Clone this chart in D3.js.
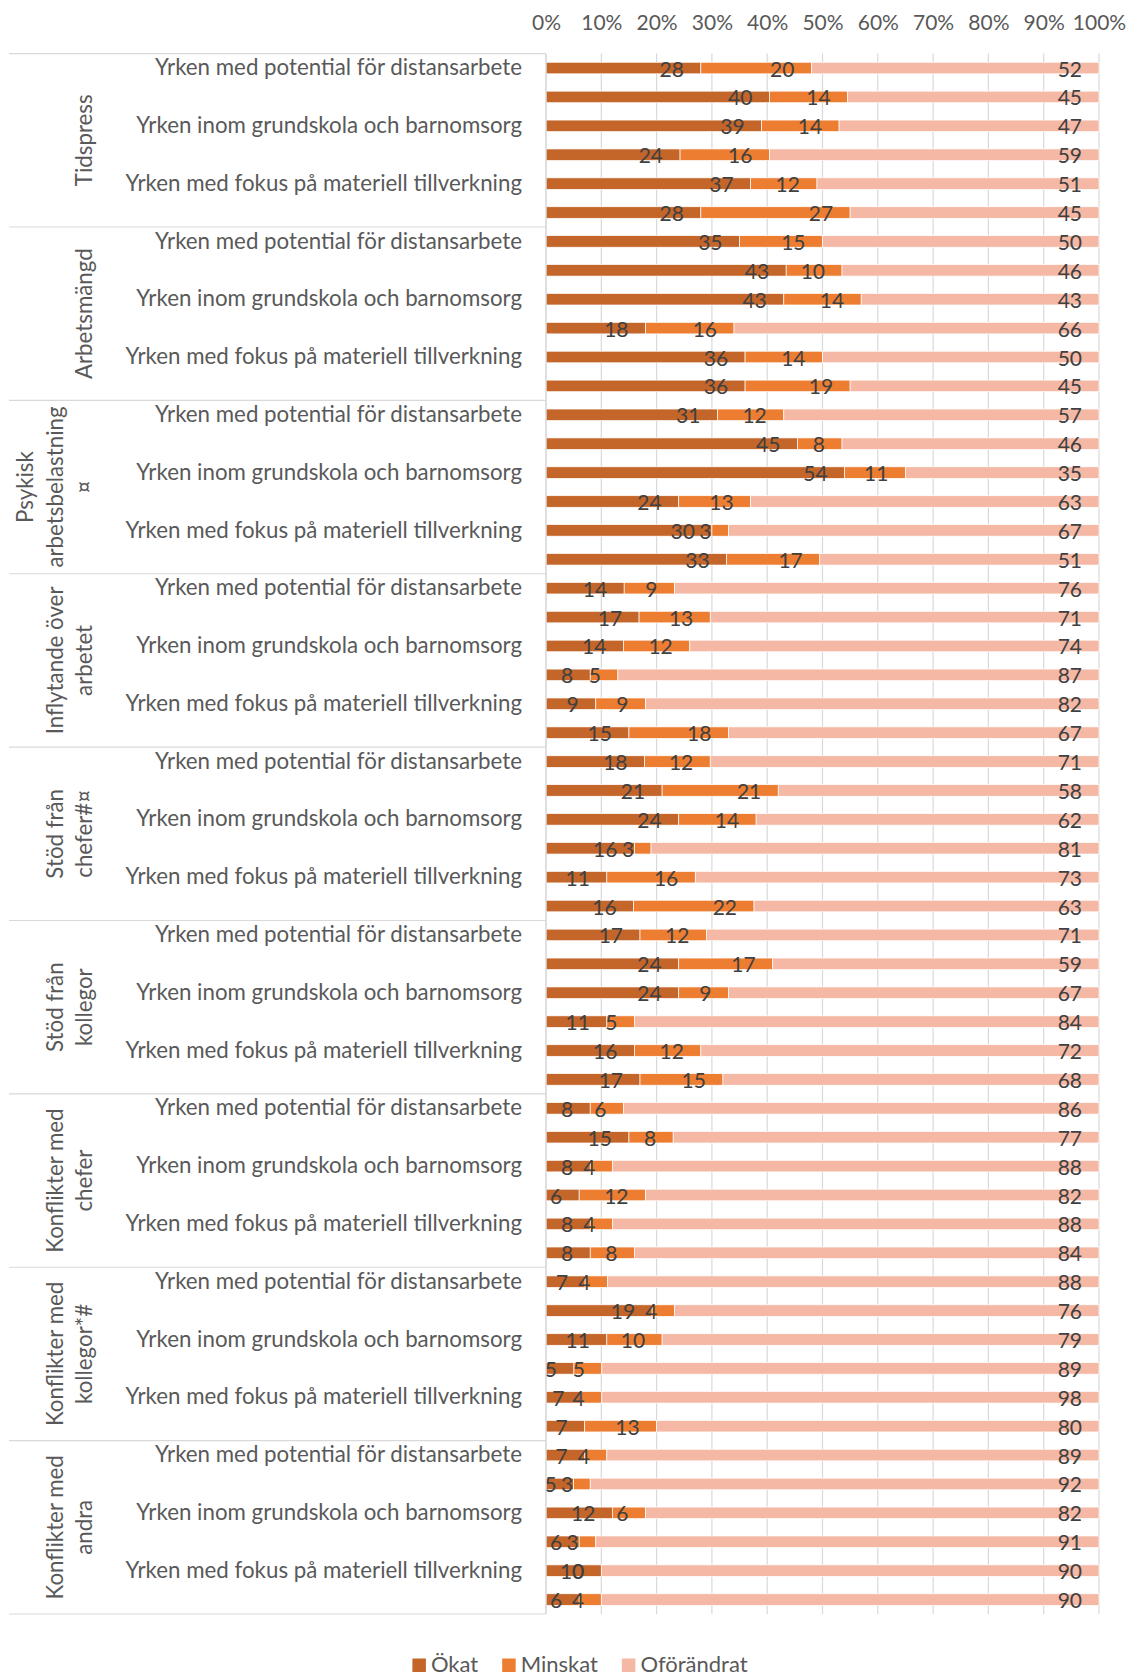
<!DOCTYPE html>
<html><head><meta charset="utf-8">
<script src="https://cdn.jsdelivr.net/npm/d3@7"></script>
<style>body{margin:0;background:#fff} svg{display:block}</style>
</head><body>
<svg id="chart" width="1129" height="1679"></svg>
<script>
// ---------- DATA ----------
const groupLabels = [
  ["Tidspress"],
  ["Arbetsmängd"],
  ["Psykisk", "arbetsbelastning", "¤"],
  ["Inflytande över", "arbetet"],
  ["Stöd från", "chefer#¤"],
  ["Stöd från", "kollegor"],
  ["Konflikter med", "chefer"],
  ["Konflikter med", "kollegor*#"],
  ["Konflikter med", "andra"]
];
const rowLabels = [
  "Yrken med potential för distansarbete", "",
  "Yrken inom grundskola och barnomsorg", "",
  "Yrken med fokus på materiell tillverkning", ""
];
const seriesNames = ["Ökat", "Minskat", "Oförändrat"];
const okat = [
  28, 40, 39, 24, 37, 28,
  35, 43, 43, 18, 36, 36,
  31, 45, 54, 24, 30, 33,
  14, 17, 14, 8, 9, 15,
  18, 21, 24, 16, 11, 16,
  17, 24, 24, 11, 16, 17,
  8, 15, 8, 6, 8, 8,
  7, 19, 11, 5, 7, 7,
  7, 5, 12, 6, 10, 6
];
const minskat = [
  20, 14, 14, 16, 12, 27,
  15, 10, 14, 16, 14, 19,
  12, 8, 11, 13, 3, 17,
  9, 13, 12, 5, 9, 18,
  12, 21, 14, 3, 16, 22,
  12, 17, 9, 5, 12, 15,
  6, 8, 4, 12, 4, 8,
  4, 4, 10, 5, 4, 13,
  4, 3, 6, 3, 0, 4
];
const oforandrat = [
  52, 45, 47, 59, 51, 45,
  50, 46, 43, 66, 50, 45,
  57, 46, 35, 63, 67, 51,
  76, 71, 74, 87, 82, 67,
  71, 58, 62, 81, 73, 63,
  71, 59, 67, 84, 72, 68,
  86, 77, 88, 82, 88, 84,
  88, 76, 79, 89, 98, 80,
  89, 92, 82, 91, 90, 90
];
const xTicks = [0, 0.1, 0.2, 0.3, 0.4, 0.5, 0.6, 0.7, 0.8, 0.9, 1];
const colors = ["#C4652A", "#ED7D31", "#F4B8A4"];

// ---------- LAYOUT ----------
const W = 1129, H = 1679;
const plotLeft = 546, plotRight = 1099, plotTop = 53.6, plotBottom = 1614;
const svg = d3.select("#chart");
const FONT = "Lato, 'Open Sans', sans-serif";
const FS_CAT = 22.3, FS_LAB = 21, FS_TICK = 21, FS_LEG = 22;

const nRows = okat.length;
const table = d3.range(nRows).map(i => ({
  i,
  "Ökat": okat[i], "Minskat": minskat[i], "Oförändrat": oforandrat[i]
}));
const stacked = d3.stack().keys(seriesNames).offset(d3.stackOffsetExpand)(table);

const x = d3.scaleLinear().domain([0, 1]).range([plotLeft, plotRight]);
const y = d3.scaleBand().domain(d3.range(nRows)).range([plotTop, plotBottom])
  .paddingInner(0.6).paddingOuter(0.3);
const step = y.step();

// gridlines
svg.append("g").selectAll("line").data(xTicks).join("line")
  .attr("x1", d => x(d)).attr("x2", d => x(d))
  .attr("y1", plotTop).attr("y2", plotBottom)
  .attr("stroke", "#D9D9D9").attr("stroke-width", 1.2);

// left category frame lines
const nGroups = groupLabels.length;
svg.append("g").selectAll("line").data(d3.range(nGroups + 1)).join("line")
  .attr("x1", 9).attr("x2", plotLeft)
  .attr("y1", g => plotTop + g * 6 * step).attr("y2", g => plotTop + g * 6 * step)
  .attr("stroke", "#D9D9D9").attr("stroke-width", 1.2);

// x axis (top)
const xAxis = svg.append("g").attr("transform", `translate(0,${plotTop})`)
  .call(d3.axisTop(x).tickValues(xTicks).tickFormat(d3.format(".0%")).tickSize(0).tickPadding(23.6));
xAxis.select(".domain").remove();
xAxis.selectAll("text").attr("font-family", FONT).attr("font-size", FS_TICK).attr("fill", "#595959");

// bars
const layers = svg.append("g").selectAll("g").data(stacked).join("g")
  .attr("fill", (d, k) => colors[k]);
layers.selectAll("rect").data(d => d).join("rect")
  .attr("x", d => x(d[0]))
  .attr("width", d => x(d[1]) - x(d[0]))
  .attr("y", (d, i) => y(i))
  .attr("height", y.bandwidth())
  .attr("stroke", "#fff").attr("stroke-width", 0.7);

// data labels (inside end)
const lab = svg.append("g").attr("font-family", FONT).attr("font-size", FS_LAB).attr("fill", "#404040")
  .attr("text-anchor", "end");
stacked.forEach((s) => {
  lab.append("g").selectAll("text").data(s).join("text")
    .attr("x", d => x(d[1]) - 17)
    .attr("y", (d, i) => y(i) + y.bandwidth() / 2 + 8.5)
    .text(d => d.data[s.key]);
});

// row category axis
const yAxis = svg.append("g").attr("transform", `translate(${plotLeft},0)`)
  .call(d3.axisLeft(y).tickSize(0).tickPadding(24).tickFormat(i => rowLabels[i % 6]));
yAxis.select(".domain").attr("stroke", "#D9D9D9").attr("stroke-width", 1.2)
  .attr("d", `M0,${plotTop}V${plotBottom}`);
yAxis.selectAll("text").attr("font-family", FONT).attr("font-size", FS_CAT).attr("fill", "#595959");

// group labels (rotated, multi-line)
const gl = svg.append("g").attr("font-family", FONT).attr("font-size", FS_CAT).attr("fill", "#595959")
  .attr("text-anchor", "middle");
groupLabels.forEach((lines, g) => {
  const cy = plotTop + (g * 6 + 3) * step;
  const n = lines.length;
  lines.forEach((ln, k) => {
    const bx = 92 - (n - 1 - k) * 29.5;
    gl.append("text").attr("transform", `translate(${bx},${cy}) rotate(-90)`).text(ln);
  });
});

// legend
const leg = svg.append("g").attr("font-family", FONT).attr("font-size", FS_LEG).attr("fill", "#595959");
const sq = 13.5, gap = 5, itemGap = 24;
const widths = seriesNames.map(n => {
  const t = leg.append("text").text(n);
  const w = t.node().getComputedTextLength(); t.remove(); return w;
});
const total = d3.sum(widths) + seriesNames.length * (sq + gap) + (seriesNames.length - 1) * itemGap;
let lx = 580 - total / 2;
const legBase = 1672;
seriesNames.forEach((n, k) => {
  leg.append("rect").attr("x", lx).attr("y", legBase - sq).attr("width", sq).attr("height", sq).attr("fill", colors[k]);
  leg.append("text").attr("x", lx + sq + gap).attr("y", legBase).text(n);
  lx += sq + gap + widths[k] + itemGap;
});
</script>
</body></html>
